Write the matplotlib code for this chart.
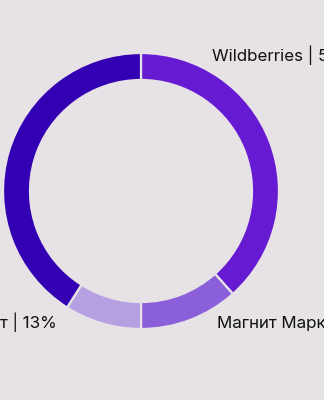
import matplotlib.pyplot as plt

# shares (clockwise from 12 o'clock)
names = ["Wildberries", "Магнит Маркет", "Яндекс Маркет", "Ozon"]
shares = [38.4, 11.6, 9.0, 41.0]
label_texts = ["Wildberries | 51%", "Магнит Маркет | 12%", "Яндекс Маркет | 13%", ""]
colors = ["#661bd3", "#8c5fda", "#b5a0e2", "#3400b4"]
bg = "#e6e2e5"

plt.rcParams['font.family'] = ['Inter', 'DejaVu Sans']

fig = plt.figure(figsize=(3.24, 4.0), dpi=100, facecolor=bg)
ax = fig.add_axes([0, 0, 1, 1])
ax.set_facecolor(bg)

# ring
ax.pie(shares, colors=colors, startangle=90, counterclock=False,
       center=(141, 209), radius=138,
       wedgeprops=dict(width=27, edgecolor=bg, linewidth=1.6))

# labels (partly cut off by the canvas edge, as in the source)
ax.text(212, 345, label_texts[0], fontsize=12.2, color="#111111", va="center", ha="left")
ax.text(217, 78, label_texts[1], fontsize=12.2, color="#111111", va="center", ha="left")
ax.text(57, 78, label_texts[2], fontsize=12.2, color="#111111", va="center", ha="right")

ax.set_xlim(0, 324)
ax.set_ylim(0, 400)
ax.set_aspect('equal')
ax.axis('off')

fig.savefig("out.png", dpi=100, facecolor=bg)
